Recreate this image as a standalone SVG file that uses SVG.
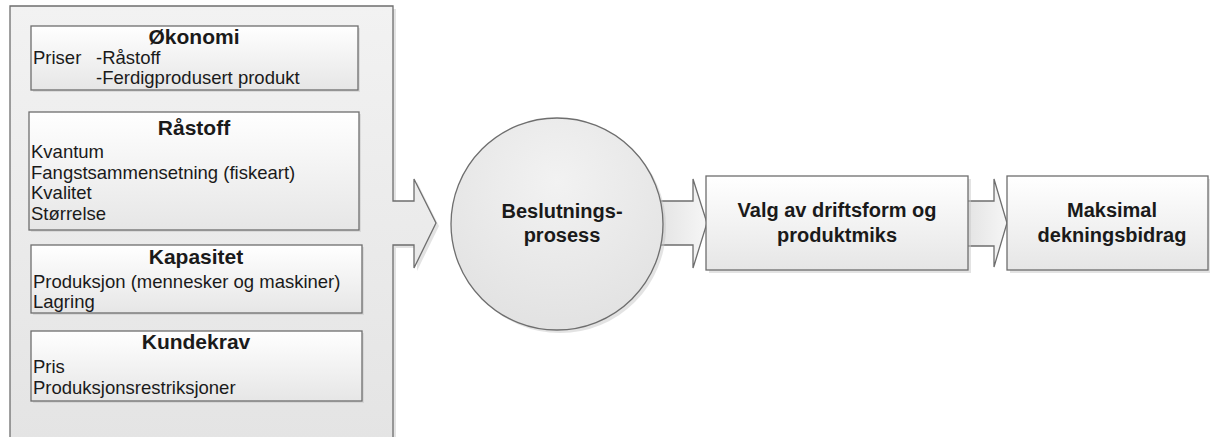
<svg xmlns="http://www.w3.org/2000/svg" width="1210" height="437" viewBox="0 0 1210 437">
<defs>
<linearGradient id="gOuter" x1="0" y1="0" x2="0" y2="1">
<stop offset="0" stop-color="#f2f2f2"/>
<stop offset="1" stop-color="#e4e4e4"/>
</linearGradient>
<linearGradient id="gBox" x1="0" y1="0" x2="0" y2="1">
<stop offset="0" stop-color="#ffffff"/>
<stop offset="1" stop-color="#e6e6e6"/>
</linearGradient>
<linearGradient id="gArrow" x1="0" y1="0" x2="1" y2="0">
<stop offset="0" stop-color="#e4e4e4"/>
<stop offset="1" stop-color="#f6f6f6"/>
</linearGradient>
<radialGradient id="gCircle" cx="0.5" cy="0.3" r="0.7">
<stop offset="0" stop-color="#f2f2f2"/>
<stop offset="1" stop-color="#e2e2e2"/>
</radialGradient>
</defs>
<style>
.sh{fill:#c8c8c8;stroke:none;opacity:0.5}
.box{fill:url(#gBox);stroke:#6e6e6e;stroke-width:1.3}
.node{stroke:#6e6e6e;stroke-width:1.3}
.arr{fill:url(#gArrow);stroke:#6e6e6e;stroke-width:1.3}
.t{font-family:"Liberation Sans",Arial,sans-serif;font-size:18.5px;fill:#1a1a1a}
.h{font-family:"Liberation Sans",Arial,sans-serif;font-size:21px;font-weight:bold;fill:#1a1a1a;text-anchor:middle}
.b{font-family:"Liberation Sans",Arial,sans-serif;font-size:20px;font-weight:bold;fill:#1a1a1a;text-anchor:middle}
</style>

<g id="factors">
<path class="sh" d="M13,9 H396 V204 H417 V182 L439,226 L417,271 V248 H396 V443 H13 Z"/>
<path class="node" fill="url(#gOuter)" d="M10,6 H393 V201 H414 V179 L436,223 L414,268 V245 H393 V440 H10 Z"/>
</g>

<g id="okonomi">
<rect class="sh" x="33" y="28" width="327" height="64"/>
<rect class="box" x="31" y="26" width="327" height="64"/>
<text class="h" x="194" y="44">Økonomi</text>
<text class="t" x="33" y="64">Priser</text>
<text class="t" x="96" y="64">-Råstoff</text>
<text class="t" x="96" y="84">-Ferdigprodusert produkt</text>
</g>

<g id="rastoff">
<rect class="sh" x="31" y="114" width="330" height="118"/>
<rect class="box" x="29" y="112" width="330" height="118"/>
<text class="h" x="194" y="135">Råstoff</text>
<text class="t" x="31" y="158">Kvantum</text>
<text class="t" x="31" y="179">Fangstsammensetning (fiskeart)</text>
<text class="t" x="31" y="199">Kvalitet</text>
<text class="t" x="31" y="220">Størrelse</text>
</g>

<g id="kapasitet">
<rect class="sh" x="33" y="247" width="331" height="68"/>
<rect class="box" x="31" y="245" width="331" height="68"/>
<text class="h" x="196" y="264">Kapasitet</text>
<text class="t" x="33" y="288">Produksjon (mennesker og maskiner)</text>
<text class="t" x="33" y="308">Lagring</text>
</g>

<g id="kundekrav">
<rect class="sh" x="33" y="333" width="331" height="70"/>
<rect class="box" x="31" y="331" width="331" height="70"/>
<text class="h" x="196" y="349">Kundekrav</text>
<text class="t" x="33" y="373">Pris</text>
<text class="t" x="33" y="394">Produksjonsrestriksjoner</text>
</g>

<g id="connectors">
<path class="arr" d="M660,201 H693 V179 L707,223 L693,268 V245 H660"/>
<path class="arr" d="M968,201 H994 V179 L1007,223 L994,267 V246 H968"/>
</g>

<g id="beslutning">
<circle class="sh" cx="560" cy="227" r="106"/>
<circle class="node" fill="url(#gCircle)" cx="557" cy="224" r="106"/>
<text class="b" x="562" y="218">Beslutnings-</text>
<text class="b" x="562" y="242">prosess</text>
</g>

<g id="valg">
<rect class="sh" x="709" y="179" width="262" height="94"/>
<rect class="box" x="706" y="176" width="262" height="94"/>
<text class="b" x="837" y="217">Valg av driftsform og</text>
<text class="b" x="837" y="242">produktmiks</text>
</g>

<g id="maksimal">
<rect class="sh" x="1010" y="179" width="201" height="94"/>
<rect class="box" x="1007" y="176" width="201" height="94"/>
<text class="b" x="1112" y="217">Maksimal</text>
<text class="b" x="1112" y="242">dekningsbidrag</text>
</g>
</svg>
